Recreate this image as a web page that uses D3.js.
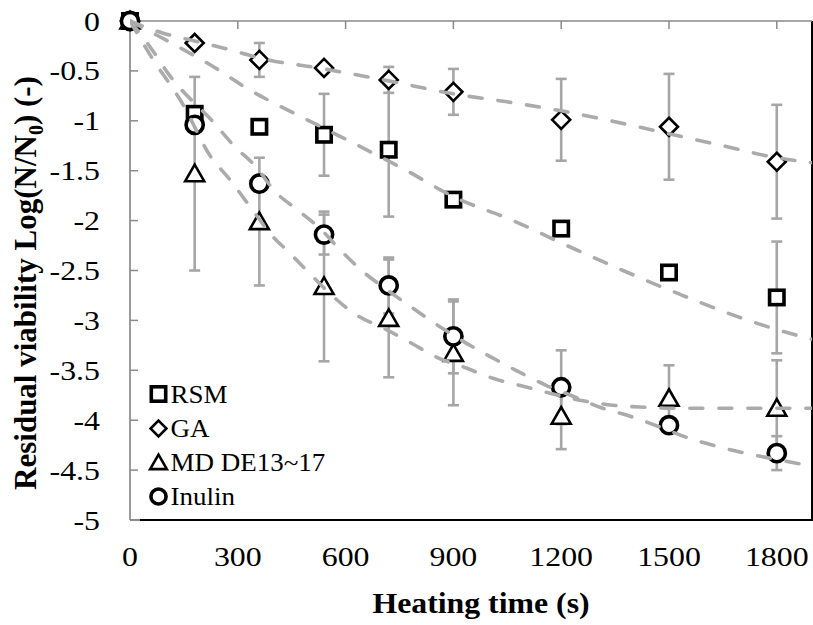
<!DOCTYPE html>
<html><head><meta charset="utf-8">
<script src="https://cdn.jsdelivr.net/npm/d3@7"></script>
<style>html,body{margin:0;padding:0;background:#fff;} svg{display:block;font-family:"Liberation Serif","Times New Roman",serif;}</style>
</head><body><svg id="c" width="813" height="625"></svg>
<script>
// ---------- data ----------
const times = [0, 180, 360, 540, 720, 900, 1200, 1500, 1800];
const seriesNames = ["RSM", "GA", "MD DE13~17", "Inulin"];
const rsmValues    = [0, -0.93, -1.06, -1.14, -1.29, -1.79, -2.08, -2.52, -2.77];
const rsmErrors    = [0, 0, 0, 0.41, 0.67, 0, 0, 0, 0.56];
const gaValues     = [0, -0.22, -0.39, -0.47, -0.59, -0.71, -0.99, -1.06, -1.41];
const gaErrors     = [0, 0, 0.17, 0, 0.13, 0.23, 0.41, 0.53, 0.57];
const mdValues     = [0, -1.53, -2.01, -2.66, -2.98, -3.33, -3.96, -3.78, -3.88];
const mdErrors     = [0, 0.97, 0.64, 0.75, 0.59, 0.52, 0.33, 0.33, 0.48];
const inulinValues = [0, -1.04, -1.63, -2.14, -2.65, -3.16, -3.67, -4.05, -4.33];
const inulinErrors = [0, 0, 0, 0.2, 0.28, 0.37, 0.37, 0, 0.17];

// fitted model curves (dashed)
const fitTimesRSM = [0, 140, 242, 314, 454, 537, 685, 765, 900, 1066, 1216, 1372, 1531, 1689, 1856, 1898];
const fitRSM      = [0, -0.27, -0.48, -0.65, -0.92, -1.07, -1.34, -1.49, -1.76, -2.00, -2.25, -2.50, -2.74, -2.96, -3.15, -3.19];
const fitTimesGA  = [0, 90, 180, 270, 360, 540, 720, 900, 1050, 1200, 1350, 1500, 1650, 1800, 1898];
const fitGA       = [0, -0.12, -0.20, -0.28, -0.37, -0.48, -0.60, -0.73, -0.81, -0.90, -1.01, -1.13, -1.25, -1.37, -1.42];
const fitTimesMD  = [0, 56, 148, 223, 278, 334, 395, 440, 495, 562, 632, 707, 779, 854, 938, 1010, 1094, 1169, 1252, 1344, 1433, 1511, 1898];
const fitMD       = [0, -0.34, -0.84, -1.35, -1.59, -1.86, -2.15, -2.31, -2.51, -2.75, -2.95, -3.08, -3.22, -3.37, -3.48, -3.58, -3.66, -3.73, -3.80, -3.85, -3.87, -3.88, -3.88];
const fitTimesInulin = [0, 56, 111, 231, 292, 348, 404, 465, 529, 584, 648, 710, 788, 857, 932, 996, 1074, 1158, 1233, 1308, 1400, 1483, 1547, 1631, 1712, 1795, 1898];
const fitInulin      = [0, -0.26, -0.55, -1.01, -1.26, -1.45, -1.71, -1.89, -2.08, -2.29, -2.51, -2.68, -2.88, -3.05, -3.22, -3.35, -3.50, -3.65, -3.76, -3.87, -3.97, -4.08, -4.17, -4.26, -4.33, -4.39, -4.46];

const xTicks = [0, 300, 600, 900, 1200, 1500, 1800];
const xTickLabels = ["0", "300", "600", "900", "1200", "1500", "1800"];
const yTicks = [0, -0.5, -1, -1.5, -2, -2.5, -3, -3.5, -4, -4.5, -5];
const yTickLabels = ["0", "-0.5", "-1", "-1.5", "-2", "-2.5", "-3", "-3.5", "-4", "-4.5", "-5"];
const xTitle = "Heating time (s)";

// ---------- drawing ----------
const svg = d3.select("#c");
svg.append("rect").attr("width", 813).attr("height", 625).attr("fill", "#fff");
const x = d3.scaleLinear().domain([0, 1898]).range([130, 812]);
const y = d3.scaleLinear().domain([0, -5]).range([21, 520]);
const axisGray = "#8a8a8a", barGray = "#a6a6a6", curveGray = "#ababab";

// plot border (black bottom/right), gray axes (left/top)
svg.append("line").attr("x1", 139).attr("x2", x.range()[1]).attr("y1", y(-5)).attr("y2", y(-5)).attr("stroke", "#000").attr("stroke-width", 2);
svg.append("line").attr("x1", x.range()[1]).attr("x2", x.range()[1]).attr("y1", y(0)).attr("y2", y(-5)+1).attr("stroke", "#000").attr("stroke-width", 2);
svg.append("line").attr("x1", 130).attr("x2", 140).attr("y1", y(-5)).attr("y2", y(-5)).attr("stroke", axisGray).attr("stroke-width", 2);
svg.append("line").attr("x1", 130).attr("x2", 130).attr("y1", y(0)).attr("y2", y(-5)).attr("stroke", axisGray).attr("stroke-width", 1.7);
svg.append("line").attr("x1", 130).attr("x2", 812).attr("y1", y(0)).attr("y2", y(0)).attr("stroke", axisGray).attr("stroke-width", 1.7);

// ticks
svg.append("g").selectAll("line").data(yTicks).join("line")
  .attr("x1", 130).attr("x2", 138).attr("y1", d => y(d)).attr("y2", d => y(d))
  .attr("stroke", axisGray).attr("stroke-width", 1.5);
svg.append("g").selectAll("line").data(xTicks.slice(1)).join("line")
  .attr("x1", d => x(d)).attr("x2", d => x(d)).attr("y1", 21).attr("y2", 29)
  .attr("stroke", axisGray).attr("stroke-width", 1.5);

// tick labels
svg.append("g").selectAll("text").data(yTicks).join("text")
  .attr("transform", d => `translate(100,${y(d) + 9.5}) scale(1.18,1)`)
  .attr("text-anchor", "end").attr("font-size", 27).text((d, i) => yTickLabels[i]);
svg.append("g").selectAll("text").data(xTicks).join("text")
  .attr("transform", d => `translate(${x(d)},566) scale(1.18,1)`)
  .attr("text-anchor", "middle").attr("font-size", 27).text((d, i) => xTickLabels[i]);

// axis titles
svg.append("text").attr("transform", "translate(481,613) scale(1.06,1)")
  .attr("text-anchor", "middle").attr("font-size", 30).attr("font-weight", "bold").text(xTitle);
const yt = svg.append("text").attr("transform", "translate(36,283) rotate(-90)")
  .attr("text-anchor", "middle").attr("font-size", 31).attr("font-weight", "bold");
yt.append("tspan").text("Residual viability  Log(N/N");
yt.append("tspan").attr("font-size", 20).attr("dy", 7).text("0");
yt.append("tspan").attr("dy", -7).text(") (-)");

// marker shapes
function marker(g, kind, s) {
  s = s || 1;
  if (kind === 0) g.append("rect").attr("x", -7.2*s).attr("y", -7.2*s).attr("width", 14.4*s).attr("height", 14.4*s)
      .attr("fill", "#fff").attr("stroke", "#000").attr("stroke-width", 3.6);
  else if (kind === 1) g.append("path").attr("d", `M0,${-9*s}L${9*s},0L0,${9*s}L${-9*s},0Z`)
      .attr("fill", "#fff").attr("stroke", "#000").attr("stroke-width", 2.6);
  else if (kind === 2) g.append("path").attr("d", `M0,${-9*s}L${9.5*s},${7.5*s}L${-9.5*s},${7.5*s}Z`)
      .attr("fill", "#fff").attr("stroke", "#000").attr("stroke-width", 2.6);
  else g.append("circle").attr("r", 8.6*s).attr("fill", "#fff").attr("stroke", "#000").attr("stroke-width", 3.6);
}

const allValues = [rsmValues, gaValues, mdValues, inulinValues];
const allErrors = [rsmErrors, gaErrors, mdErrors, inulinErrors];

// error bars
const eb = svg.append("g").attr("stroke", barGray).attr("stroke-width", 2.6);
allValues.forEach((vals, si) => {
  vals.forEach((v, i) => {
    const e = allErrors[si][i];
    if (!e) return;
    const cx = x(times[i]);
    eb.append("line").attr("x1", cx).attr("x2", cx).attr("y1", y(v + e)).attr("y2", y(v - e));
    eb.append("line").attr("x1", cx - 5.5).attr("x2", cx + 5.5).attr("y1", y(v + e)).attr("y2", y(v + e));
    eb.append("line").attr("x1", cx - 5.5).attr("x2", cx + 5.5).attr("y1", y(v - e)).attr("y2", y(v - e));
  });
});

// markers
allValues.forEach((vals, si) => {
  const g = svg.append("g");
  vals.forEach((v, i) => {
    const m = g.append("g").attr("transform", `translate(${x(times[i])},${y(v)})`);
    marker(m, si);
  });
});

// fitted curves on top
svg.append("clipPath").attr("id", "pc").append("rect").attr("x", 130).attr("y", 15).attr("width", 682).attr("height", 505);
const line = d3.line().x(d => x(d[0])).y(d => y(d[1])).curve(d3.curveMonotoneX);
const fits = [[fitTimesRSM, fitRSM], [fitTimesGA, fitGA], [fitTimesMD, fitMD], [fitTimesInulin, fitInulin]];
const cg = svg.append("g").attr("clip-path", "url(#pc)");
fits.forEach(([ts, vs]) => {
  cg.append("path").attr("d", line(ts.map((t, i) => [t, vs[i]])))
    .attr("fill", "none").attr("stroke", curveGray).attr("stroke-width", 3.6)
    .attr("stroke-dasharray", "13,16").attr("stroke-linecap", "round");
});

// legend
const legY = [394, 428.5, 462.5, 496.5];
seriesNames.forEach((name, i) => {
  const m = svg.append("g").attr("transform", `translate(158.5,${legY[i]})`);
  marker(m, i, i === 0 ? 1 : 0.88);
  svg.append("text").attr("transform", `translate(170.5,${legY[i] + 8.5}) scale(1.08,1)`)
    .attr("font-size", 25).text(name);
});
</script></body></html>
